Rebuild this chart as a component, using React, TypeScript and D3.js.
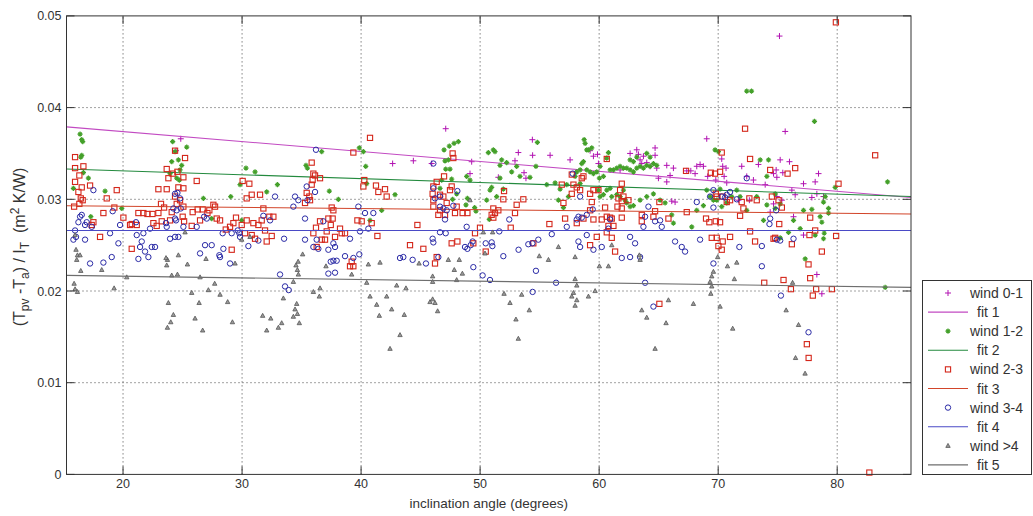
import React from 'react';
import * as d3 from 'd3';

// values: [inclination angle, (Tpv-Ta)/IT]
const wind01 = [
  [24.85, .0366], [24.45, .0353], [47.11, .0377], [42.65, .0339], [44.39, .0342], [45.93, .0339], [49.29, .0341],
  [49.15, .0328], [51.53, .0324], [53.21, .0351], [54.39, .0365], [52.93, .0342], [53.69, .0329], [53.85, .0323],
  [54.41, .0348], [55.88, .0348], [57.56, .0343], [59.24, .0353], [59.52, .0347], [59.86, .0349], [59.94, .0339],
  [61.76, .0332], [63.16, .0354], [63.3, .0349], [62.6, .035], [63.72, .0347], [63.58, .0339], [63.44, .0343],
  [64.0, .034], [64.7, .0356], [64.7, .0348], [64.28, .0336], [64.84, .0334], [65.68, .0337], [66.24, .0334],
  [65.96, .0326], [66.38, .0297], [66.1, .0298], [67.36, .0331], [67.7, .0331], [68.06, .0328], [68.2, .0336],
  [68.48, .0338], [68.76, .0336], [69.12, .0325], [70.3, .0344], [70.38, .0336], [70.66, .0334], [69.8, .0321],
  [69.04, .0366], [70.5, .0325], [70.72, .0318], [71.98, .0336], [72.4, .0325], [72.96, .0321], [73.38, .0338],
  [72.62, .0299], [71.7, .0299], [64.98, .0323], [65.68, .0319], [75.15, .0478], [75.63, .0374], [75.21, .0343],
  [75.99, .0341], [74.87, .0332], [74.65, .0328], [75.43, .0329], [74.93, .0324], [77.17, .0317], [78.15, .0319],
  [78.43, .0328], [75.35, .0299], [76.19, .031], [76.47, .0305], [77.87, .0302], [78.29, .0306], [78.85, .0303],
  [76.33, .0281], [77.17, .0261], [78.29, .0218], [78.71, .0197], [73.95, .0316], [74.65, .0295], [74.37, .0286],
  [74.93, .0303],
];

const wind12 = [
  [16.39, .0371], [16.53, .0365], [16.61, .0363], [16.53, .0348], [16.45, .0346], [16.67, .0329], [15.83, .0312],
  [17.09, .0323], [18.49, .0309], [19.89, .029], [17.29, .0281], [24.17, .0363], [25.35, .0357], [24.37, .0352],
  [24.09, .0341], [24.65, .0343], [24.93, .0337], [24.79, .0332], [24.51, .0323], [24.73, .0321], [26.75, .0301],
  [29.05, .0303], [30.33, .0334], [31.09, .033], [29.83, .0316], [32.97, .0316], [32.07, .0308], [27.45, .0279],
  [29.97, .0277], [23.95, .0328], [39.85, .0356], [40.19, .0352], [35.37, .0337], [35.49, .0334], [36.69, .0352],
  [40.39, .0336], [40.47, .0317], [37.33, .0309], [38.09, .03], [41.73, .0288], [40.75, .0277], [42.85, .0305],
  [46.97, .0354], [47.41, .0358], [47.81, .0361], [48.17, .0363], [47.05, .0342], [47.33, .0343], [46.63, .0312],
  [46.77, .0321], [47.11, .0333], [47.47, .0333], [47.61, .0322], [47.69, .03], [48.03, .0306], [48.87, .0325],
  [49.15, .0321], [48.93, .0301], [48.81, .0294], [49.54, .0291], [49.65, .0287], [50.69, .0351], [51.11, .0354],
  [51.25, .0352], [51.81, .0343], [51.67, .0337], [52.23, .034], [52.65, .033], [53.07, .0336], [54.81, .0362],
  [54.69, .0336], [53.35, .0325], [54.19, .0324], [51.67, .0323], [50.83, .031], [50.97, .0313], [51.95, .0311],
  [50.77, .0278], [51.39, .0303], [50.55, .0299], [58.74, .0365], [58.82, .0361], [58.96, .0354], [59.1, .0354],
  [59.38, .0356], [58.68, .0341], [58.54, .0339], [58.4, .0332], [58.96, .0332], [59.24, .033], [59.52, .0328],
  [59.8, .033], [60.08, .0336], [60.02, .0323], [60.36, .0325], [60.78, .0351], [60.64, .0345], [60.92, .0332],
  [61.2, .0332], [61.48, .0334], [61.76, .0336], [62.04, .0334], [62.32, .0334], [62.6, .0332], [62.88, .033],
  [63.16, .0334], [63.44, .0336], [63.72, .0334], [64.0, .0337], [64.28, .0336], [64.56, .0339], [64.84, .0337],
  [62.6, .0343], [62.88, .0341], [63.16, .0346], [64.0, .035], [64.28, .0346], [59.94, .031], [60.08, .0303],
  [60.36, .0305], [60.64, .031], [60.92, .0312], [61.06, .0303], [61.48, .0305], [61.76, .0303], [62.04, .031],
  [62.18, .0299], [62.32, .0296], [62.6, .0292], [62.88, .0293], [63.44, .0299], [64.0, .0303], [64.56, .0306],
  [65.12, .0299], [65.54, .0296], [66.1, .0283], [66.24, .0274], [67.78, .027], [68.2, .0288], [68.76, .0293],
  [69.04, .031], [69.32, .0303], [69.6, .0299], [69.74, .0354], [70.02, .0352], [70.16, .0311], [69.88, .0299],
  [70.72, .0296], [70.3, .0292], [71.14, .0303], [71.56, .031], [71.84, .0303], [72.4, .0288], [73.24, .0303],
  [55.6, .0316], [56.3, .0318], [56.72, .0311], [57.0, .0291], [56.58, .0299], [57.42, .0303], [58.12, .033],
  [57.98, .0325], [58.4, .0317], [57.28, .0316], [72.4, .0418], [72.8, .0418], [78.09, .0385], [84.23, .0319],
  [79.83, .0313], [73.53, .0343], [74.23, .0343], [74.09, .0325], [74.79, .0306], [78.99, .0303], [78.85, .0297],
  [74.09, .0294], [74.79, .029], [75.21, .0295], [77.17, .0288], [77.87, .0289], [79.27, .029], [79.27, .0285],
  [78.57, .0281], [78.71, .0275], [76.33, .0277], [76.89, .0268], [78.15, .0261], [78.91, .0263], [78.85, .0257],
  [77.31, .0235], [75.91, .0264], [84.03, .0204], [75.21, .0258], [73.81, .0277],
];

const wind23 = [
  [15.97, .0346], [15.97, .0334], [16.67, .0336], [16.33, .0326], [15.97, .0319], [17.23, .0315], [16.53, .0313],
  [16.25, .0308], [16.45, .0301], [16.61, .0299], [15.89, .0292], [16.33, .0295], [17.51, .0275], [17.37, .0272],
  [18.07, .0259], [18.63, .0301], [19.47, .031], [19.27, .0291], [18.35, .0285], [20.03, .028], [20.59, .0272],
  [20.73, .0246], [22.97, .0311], [23.67, .0311], [23.67, .0333], [24.37, .0353], [25.21, .0345], [24.57, .033],
  [23.81, .0323], [24.17, .0328], [25.07, .0324], [24.65, .0313], [25.07, .0312], [24.37, .0303], [24.79, .0299],
  [24.51, .0295], [23.19, .0295], [23.45, .0291], [24.09, .0286], [25.07, .0292], [25.01, .0281], [25.13, .0276],
  [23.95, .0277], [23.25, .0276], [22.83, .0271], [22.55, .0274], [21.71, .0285], [22.05, .0284], [22.47, .0284],
  [22.97, .0285], [21.29, .0285], [21.15, .0272], [20.73, .0273], [26.19, .032], [26.27, .0289], [26.69, .0289],
  [27.09, .0285], [27.59, .0294], [27.73, .0292], [27.25, .0288], [25.77, .0271], [25.85, .0286], [26.47, .0277],
  [27.87, .0279], [28.15, .0277], [29.13, .0245], [28.99, .027], [29.49, .028], [30.05, .032], [30.61, .0317],
  [30.39, .0301], [30.81, .0305], [31.51, .0305], [31.79, .029], [32.29, .0281], [32.63, .0281], [31.65, .0277],
  [30.95, .0274], [30.39, .0277], [31.37, .0272], [31.93, .0266], [32.49, .026], [32.07, .0254], [30.81, .0261],
  [31.09, .0257], [30.25, .0263], [29.27, .0274], [29.97, .0272], [28.63, .0267], [40.75, .0367], [39.35, .0351],
  [35.85, .034], [35.99, .0328], [36.13, .0326], [36.55, .0323], [35.93, .0321], [35.85, .0316], [35.43, .0307],
  [35.65, .0303], [35.71, .0299], [35.29, .0296], [37.53, .0291], [37.67, .0288], [37.25, .0279], [37.61, .0279],
  [37.45, .0272], [38.23, .0268], [37.81, .0259], [38.37, .0263], [38.65, .0263], [37.11, .0265], [36.97, .0256],
  [36.27, .0248], [36.69, .0256], [36.55, .0276], [36.21, .0269], [35.99, .0263], [39.21, .0232], [39.35, .0227],
  [39.07, .0227], [39.69, .0277], [40.05, .0276], [40.19, .0314], [40.27, .0321], [40.89, .0274], [41.25, .0315],
  [41.45, .0308], [42.15, .0303], [42.01, .0311], [41.37, .026], [44.11, .025], [45.23, .0246], [44.73, .0272],
  [46.07, .0314], [46.35, .0319], [46.01, .0306], [46.07, .0299], [46.07, .0292], [46.63, .0305], [47.19, .0296],
  [46.91, .0303], [46.97, .0325], [47.61, .0314], [47.69, .035], [47.75, .0345], [47.47, .031], [46.63, .0288],
  [46.49, .0283], [46.21, .023], [46.35, .0237], [47.05, .0283], [47.89, .0285], [48.03, .0292], [48.53, .0285],
  [48.93, .0285], [47.61, .0252], [48.09, .0254], [49.99, .0269], [49.57, .0263], [49.43, .0252], [50.47, .0243],
  [51.11, .029], [51.53, .0288], [51.95, .03], [52.01, .0309], [50.97, .0283], [51.25, .0285], [51.11, .028],
  [52.57, .0269], [52.93, .0285], [53.07, .0294], [53.63, .03], [54.47, .0252], [72.26, .0377], [72.68, .0344],
  [57.7, .0327], [58.12, .0313], [58.4, .031], [58.68, .0325], [58.54, .0323], [59.52, .031], [59.94, .031],
  [60.64, .0344], [61.9, .0317], [61.76, .031], [61.9, .0298], [62.04, .0303], [62.46, .0299], [61.62, .0301],
  [61.9, .029], [61.54, .0292], [60.5, .0291], [59.38, .0297], [59.24, .0288], [57.0, .0296], [57.14, .0279],
  [58.12, .0274], [58.68, .0279], [59.52, .0278], [60.22, .0278], [60.64, .0281], [60.92, .028], [60.78, .0271],
  [61.2, .0271], [61.06, .0279], [61.9, .028], [60.64, .0264], [61.06, .0258], [59.8, .0259], [59.24, .025],
  [61.34, .0243], [63.58, .0283], [63.58, .0276], [64.56, .0281], [64.7, .0287], [65.06, .0297], [65.82, .0279],
  [67.36, .0286], [67.3, .0331], [68.98, .0279], [69.26, .0275], [69.8, .0276], [69.38, .0329], [69.74, .0328],
  [70.16, .033], [70.3, .0351], [69.8, .0306], [69.88, .0303], [70.38, .0303], [70.72, .0297], [71.0, .0299],
  [70.16, .0275], [69.46, .0258], [69.88, .0258], [70.02, .0249], [70.38, .0254], [70.3, .0245], [71.0, .0259],
  [71.84, .0282], [72.12, .029], [71.98, .0297], [72.62, .0301], [73.24, .0299], [72.68, .0265], [73.1, .0254],
  [65.06, .0186], [55.82, .0273], [56.86, .0316], [57.84, .0316], [57.7, .0306], [59.24, .0306], [79.89, .0493],
  [83.19, .0348], [76.47, .0334], [75.83, .0328], [74.37, .0332], [80.11, .0317], [74.51, .0303], [75.07, .0299],
  [75.35, .0291], [77.73, .028], [75.13, .0273], [78.15, .0266], [74.65, .0257], [74.79, .0258], [77.67, .0261],
  [79.91, .026], [76.19, .0251], [78.71, .0243], [77.59, .0229], [73.87, .0209], [75.49, .0212], [77.73, .0214],
  [76.11, .0202], [78.23, .0202], [79.55, .0202], [77.95, .0195], [77.45, .0142], [77.6, .0127], [82.7, .0002],
];

const wind34 = [
  [15.83, .0256], [16.05, .0259], [15.97, .0266], [16.25, .0275], [16.53, .0283], [16.39, .0281], [16.81, .0272],
  [16.95, .0275], [17.37, .027], [17.51, .031], [16.81, .0256], [17.23, .023], [18.35, .0231], [18.91, .0263],
  [19.13, .0287], [19.61, .0252], [19.05, .0237], [19.75, .0272], [21.15, .0261], [21.09, .0275], [21.57, .0254],
  [21.43, .0248], [21.85, .0243], [21.29, .0235], [22.13, .0237], [21.71, .0263], [22.41, .0248], [22.69, .0248],
  [22.27, .0268], [23.67, .027], [23.61, .0274], [23.95, .0257], [24.37, .0259], [24.65, .0259], [24.45, .0277],
  [24.37, .0306], [24.57, .0307], [24.79, .0301], [24.23, .029], [24.37, .0279], [25.07, .027], [24.85, .029],
  [24.51, .0288], [26.19, .027], [26.47, .0241], [26.89, .025], [27.45, .025], [27.03, .0279], [26.81, .0281],
  [28.09, .0239], [28.15, .0237], [28.43, .0246], [28.99, .023], [29.13, .0263], [28.37, .0263], [29.63, .0266],
  [29.77, .0263], [29.83, .0259], [30.53, .0249], [31.37, .0255], [31.79, .0282], [32.35, .0277], [32.77, .0303],
  [33.53, .0257], [33.19, .0218], [33.61, .0205], [33.92, .0201], [34.31, .0292], [34.45, .0303], [34.73, .0299],
  [36.21, .0354], [35.43, .0314], [35.49, .0299], [36.13, .0308], [35.29, .0279], [36.83, .0276], [36.27, .0256],
  [35.29, .0256], [35.99, .0248], [36.41, .0246], [37.25, .0245], [37.67, .0252], [37.81, .0248], [37.67, .0233],
  [37.25, .0219], [37.81, .022], [37.95, .0233], [37.45, .0232], [39.07, .0257], [39.91, .0265], [39.77, .0292],
  [40.33, .0285], [41.03, .0285], [40.61, .0268], [39.35, .0236], [39.85, .024], [38.65, .0238], [43.27, .0236],
  [43.55, .0237], [44.33, .0234], [45.45, .023], [46.07, .0339], [46.07, .0312], [46.21, .0301], [46.63, .0303],
  [46.63, .0292], [47.05, .0278], [47.19, .0288], [46.91, .029], [48.09, .0309], [47.75, .0293], [46.01, .0257],
  [46.07, .0253], [46.49, .0237], [46.63, .0264], [47.11, .0263], [48.87, .027], [48.93, .0246], [49.21, .025],
  [49.37, .0254], [48.73, .0248], [49.43, .0226], [50.21, .0217], [50.83, .0212], [50.47, .0252], [50.97, .0253],
  [51.03, .0249], [51.95, .0238], [51.61, .0265], [52.45, .0278], [53.23, .0245], [54.05, .0251], [54.39, .0252],
  [54.89, .0256], [54.41, .0199], [54.69, .0222], [57.78, .0328], [58.4, .0303], [59.46, .0289], [58.26, .0281],
  [58.54, .028], [58.12, .0278], [58.96, .0283], [57.28, .027], [56.02, .0262], [58.26, .0254], [58.4, .0248],
  [58.96, .0261], [59.52, .0245], [60.22, .0248], [60.92, .0278], [60.78, .0268], [61.9, .0236], [62.6, .0237],
  [62.6, .0259], [63.02, .0252], [63.44, .0237], [63.86, .0281], [63.72, .027], [64.14, .0292], [64.7, .0276],
  [65.12, .0277], [65.26, .027], [66.38, .0254], [66.94, .0248], [67.22, .0243], [68.48, .0256], [68.2, .0297],
  [69.32, .0303], [69.6, .031], [69.6, .0291], [70.3, .0303], [70.58, .0302], [70.72, .0305], [71.0, .0308],
  [71.56, .03], [72.4, .0323], [71.78, .0248], [56.38, .0209], [63.86, .0209], [64.56, .0183], [69.6, .023],
  [74.87, .0288], [74.37, .0279], [74.31, .0273], [74.93, .0256], [75.21, .0255], [76.33, .0257], [73.67, .0249],
  [73.67, .0227], [75.27, .0195], [77.59, .0155],
];

const wind45 = [
  [15.97, .0261], [16.05, .0245], [16.17, .0239], [16.39, .0239], [16.11, .0234], [16.45, .0222], [15.89, .0208],
  [15.97, .0202], [16.17, .0199], [18.21, .0223], [19.25, .0203], [20.31, .0215], [23.67, .0228], [23.73, .0234],
  [23.61, .0236], [24.09, .0217], [24.65, .0239], [24.57, .0218], [25.21, .0264], [25.41, .0229], [23.81, .0187],
  [24.23, .0174], [24.01, .0166], [23.73, .016], [25.77, .0198], [26.05, .017], [26.39, .0187], [26.69, .0157],
  [26.47, .0215], [26.97, .0235], [27.17, .0201], [27.7, .0208], [28.15, .0196], [28.79, .0188], [29.19, .0166],
  [29.41, .023], [29.97, .0256], [30.67, .0259], [31.73, .0173], [32.07, .0157], [32.41, .017], [33.05, .016],
  [33.33, .0165], [33.47, .0192], [34.31, .0172], [34.59, .0186], [34.65, .0175], [34.81, .0165], [34.45, .018],
  [34.73, .0218], [34.65, .0223], [34.31, .021], [34.53, .0228], [34.71, .0232], [35.09, .024], [37.05, .0227],
  [39.21, .0218], [40.61, .0229], [41.59, .0231], [42.99, .0206], [43.77, .0203], [40.47, .0209], [41.53, .0173],
  [42.15, .0194], [41.31, .0185], [40.75, .0194], [43.27, .0152], [42.43, .0137], [42.57, .018], [43.63, .0174],
  [36.55, .0203], [35.99, .0199], [36.49, .0194], [44.87, .023], [46.01, .0216], [46.01, .021], [45.79, .0188],
  [46.01, .0191], [46.21, .0187], [46.43, .0178], [47.33, .0234], [47.83, .0223], [48.03, .0212], [48.25, .0234],
  [48.51, .0219], [49.15, .0299], [50.27, .0264], [50.41, .0241], [51.05, .0264], [52.01, .0197], [52.51, .0187],
  [53.01, .0169], [53.21, .0148], [53.49, .0196], [54.13, .0179], [54.97, .0238], [55.74, .0234], [56.58, .0248],
  [57.98, .0237], [57.98, .0213], [58.12, .0206], [57.84, .0198], [57.7, .0194], [58.12, .019], [57.98, .0184],
  [59.1, .0194], [59.66, .02], [60.02, .0227], [60.78, .0227], [61.06, .025], [63.44, .0234], [63.38, .0239],
  [63.58, .0179], [64.0, .0171], [64.7, .0137], [65.62, .0165], [65.82, .019], [67.92, .0186], [69.6, .0221],
  [69.46, .0216], [69.32, .021], [69.46, .0205], [69.38, .0197], [69.96, .0237], [70.16, .0183], [70.78, .0227],
  [71.22, .0159], [71.56, .0231], [71.36, .0213], [76.25, .0209], [75.71, .0179], [76.75, .0163], [76.5, .0127],
  [77.3, .011],
];

// fitted lines: value at the left and right edge of the axes
const fitEnds = [
  [0.0379, 0.0302],
  [0.0333, 0.0303],
  [0.0293, 0.0284],
  [0.0266, 0.0266],
  [0.0217, 0.0204],
];

const seriesNames = ['wind 0-1', 'wind 1-2', 'wind 2-3', 'wind 3-4', 'wind >4'];
const fitNames = ['fit 1', 'fit 2', 'fit 3', 'fit 4', 'fit 5'];
const xTicks = [20, 30, 40, 50, 60, 70, 80];
const yTicks = [0, 0.01, 0.02, 0.03, 0.04, 0.05];
const xDomain = [15.25, 86.2];

const pointColors = ['#b212b2', '#44a02a', '#d4261a', '#2a2aa6', '#555555'];
const fitColors = ['#c24ac2', '#238a3e', '#d2452a', '#4a4ac6', '#6e6e6e'];
const font = 'Liberation Sans, Arial, sans-serif';

function Marker({ kind, x, y }: { kind: number; x: number; y: number }) {
  const c = pointColors[kind];
  const t = `translate(${x},${y})`;
  if (kind === 0) return <path transform={t} d="M-3,0H3M0,-3V3" stroke={c} strokeWidth={1} fill="none" />;
  if (kind === 1)
    return (
      <path transform={t} d="M-2.6,0H2.6M0,-2.6V2.6M-1.7,-1.7L1.7,1.7M-1.7,1.7L1.7,-1.7" stroke={c} strokeWidth={1.2} fill="none" />
    );
  if (kind === 2) return <rect x={x - 2.6} y={y - 2.6} width={5.2} height={5.2} stroke={c} strokeWidth={1.1} fill="none" />;
  if (kind === 3) return <circle cx={x} cy={y} r={2.7} stroke={c} strokeWidth={1} fill="none" />;
  return <path transform={t} d="M0,-2.4L2.2,1.6H-2.2Z" stroke={c} strokeWidth={0.8} fill="#9a9a9a" />;
}

export default function App() {
  const x = d3.scaleLinear().domain(xDomain).range([66.5, 911]);
  const y = d3.scaleLinear().domain([0, 0.05]).range([474.4, 15.9]);
  const [x0, x1] = x.range();
  const [y0, y1] = y.range();
  const allSeries = [wind01, wind12, wind23, wind34, wind45];
  const line = d3.line<[number, number]>().x(d => x(d[0])).y(d => y(d[1]));

  const legendTop = 293;
  const legendStep = 19.1;

  return (
    <svg width={1033} height={516} style={{ position: 'absolute', left: 0, top: 0, background: '#fff' }} fontFamily={font}>
      <rect x={0} y={0} width={1033} height={516} fill="#fff" />
      {/* grid */}
      <g stroke="#444" strokeWidth={1} strokeDasharray="1,3">
        {xTicks.map(t => (
          <line key={'gx' + t} x1={x(t)} x2={x(t)} y1={y0} y2={y1} />
        ))}
        {yTicks.slice(1, -1).map(t => (
          <line key={'gy' + t} x1={x0} x2={x1} y1={y(t)} y2={y(t)} />
        ))}
      </g>
      {/* data + fits, in legend order */}
      {allSeries.map((s, i) => (
        <g key={'s' + i}>
          {s.map((d, j) => (
            <Marker key={j} kind={i} x={x(d[0])} y={y(d[1])} />
          ))}
          <path
            d={line([[xDomain[0], fitEnds[i][0]], [xDomain[1], fitEnds[i][1]]]) || ''}
            stroke={fitColors[i]}
            strokeWidth={1.1}
            fill="none"
          />
        </g>
      ))}
      {/* axes box and ticks */}
      <rect x={x0} y={y1} width={x1 - x0} height={y0 - y1} fill="none" stroke="#333" strokeWidth={1} />
      <g stroke="#333" strokeWidth={1}>
        {xTicks.map(t => (
          <g key={'tx' + t}>
            <line x1={x(t)} x2={x(t)} y1={y0} y2={y0 - 8} />
            <line x1={x(t)} x2={x(t)} y1={y1} y2={y1 + 8} />
          </g>
        ))}
        {yTicks.map(t => (
          <g key={'ty' + t}>
            <line x1={x0} x2={x0 + 8} y1={y(t)} y2={y(t)} />
            <line x1={x1} x2={x1 - 8} y1={y(t)} y2={y(t)} />
          </g>
        ))}
      </g>
      <g fontSize={12.5} fill="#333">
        {xTicks.map(t => (
          <text key={'lx' + t} x={x(t)} y={y0 + 14} textAnchor="middle">
            {t}
          </text>
        ))}
        {yTicks.map(t => (
          <text key={'ly' + t} x={x0 - 5} y={y(t) + 4.5} textAnchor="end">
            {t === 0 ? '0' : d3.format('.2f')(t)}
          </text>
        ))}
      </g>
      <text x={(x0 + x1) / 2} y={508} textAnchor="middle" fontSize={13.5} fill="#333">
        inclination angle (degrees)
      </text>
      <text transform="translate(25,247) rotate(-90)" textAnchor="middle" fontSize={16} fill="#333">
        <tspan>(T</tspan>
        <tspan dy={4} fontSize={12}>pv</tspan>
        <tspan dy={-4}>{' -T'}</tspan>
        <tspan dy={4} fontSize={12}>a</tspan>
        <tspan dy={-4}>{') / I'}</tspan>
        <tspan dy={4} fontSize={12}>T</tspan>
        <tspan dy={-4}>{'\u00a0\u00a0(m'}</tspan>
        <tspan dy={-6} fontSize={12}>2</tspan>
        <tspan dy={6}>{'\u00a0K/W)'}</tspan>
      </text>
      {/* legend */}
      <rect x={922.5} y={280.5} width={109} height={194} fill="#fff" stroke="#333" strokeWidth={1} />
      {seriesNames.map((name, i) => {
        const ym = legendTop + legendStep * 2 * i;
        const yf = ym + legendStep;
        return (
          <g key={'lg' + i}>
            <Marker kind={i} x={948} y={ym} />
            <text x={970} y={ym + 5} fontSize={14} fill="#333">
              {name}
            </text>
            <line x1={928} x2={968} y1={yf} y2={yf} stroke={fitColors[i]} strokeWidth={1.1} />
            <text x={977} y={yf + 5} fontSize={14} fill="#333">
              {fitNames[i]}
            </text>
          </g>
        );
      })}
    </svg>
  );
}
